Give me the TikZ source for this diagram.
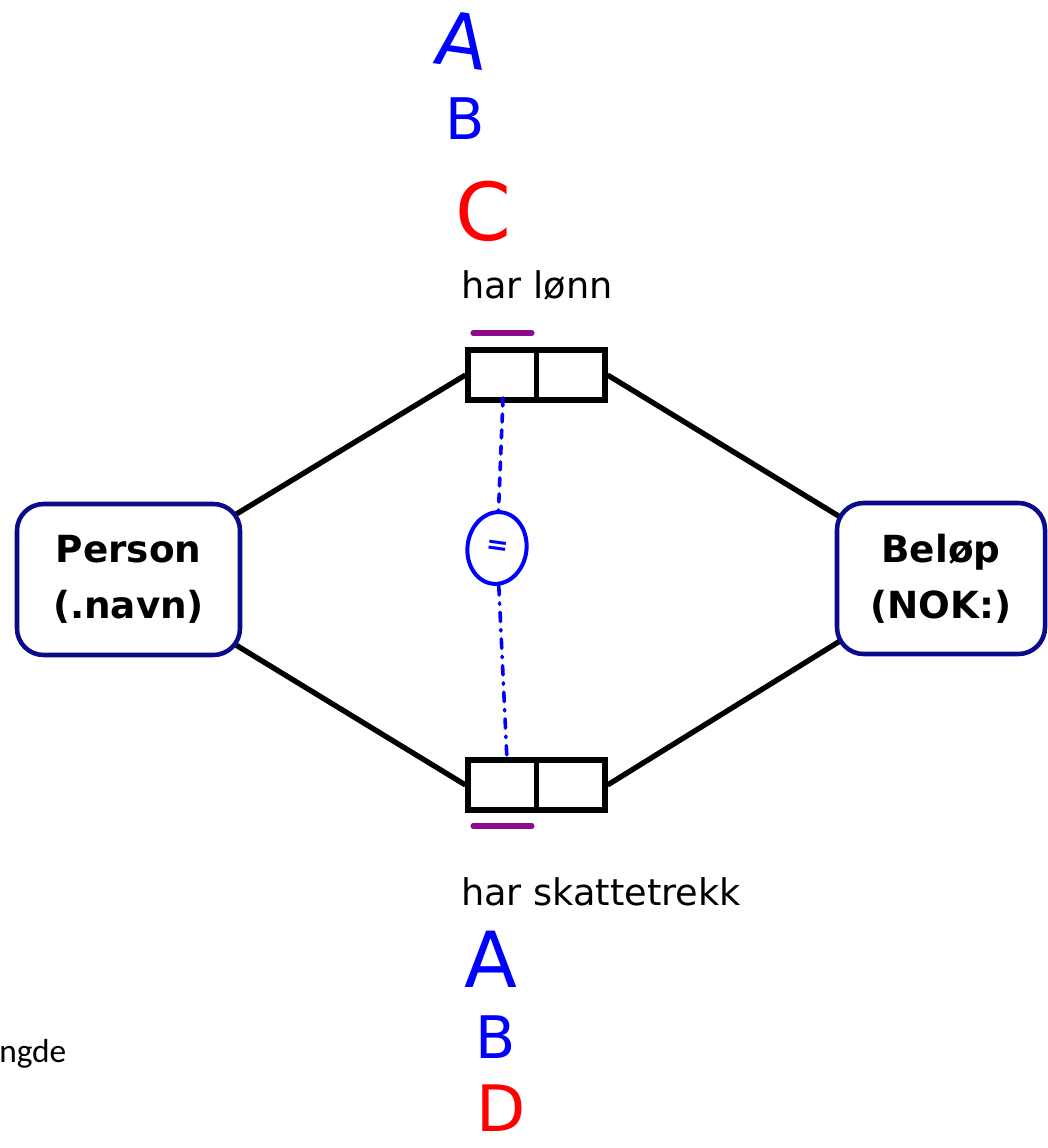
\documentclass[tikz,border=0pt]{standalone}
\usepackage{fontspec}
\setmainfont{DejaVu Sans}
\newfontfamily\calib{Carlito}
\usetikzlibrary{shapes.geometric,backgrounds}
\definecolor{navyb}{RGB}{10,10,140}
\definecolor{purp}{RGB}{140,10,140}
\definecolor{hblue}{RGB}{0,0,255}
\definecolor{hred}{RGB}{255,0,0}
\tikzset{
  entity/.style={draw=navyb, line width=3.4pt, rounded corners=20pt, fill=white,
     align=center, font=\fontsize{28}{42}\selectfont\bfseries, inner sep=0pt},
  rolebox/.style={draw=black, line width=3.8pt, fill=white, minimum width={137*0.75pt},
     minimum height={50*0.75pt}, inner sep=0pt},
  conn/.style={draw=black, line width=4pt},
  uniq/.style={draw=purp, line width=3.8pt, line cap=round},
  lbl/.style={font=\fontsize{27.5}{33}\selectfont, inner sep=0pt},
  hand/.style={inner sep=0pt, anchor=base},
  pen/.style={draw=hblue, line width=2.7pt, line cap=round}
}
\begin{document}
\begin{tikzpicture}[x=0.75pt,y=-0.75pt]
\useasboundingbox (0,0) rectangle (1048,1148);
% entity types
\node[entity, minimum width={223*0.75pt}, minimum height={151*0.75pt}] (person) at (128.5,579.5) {Person\\(.navn)};
\node[entity, minimum width={208*0.75pt}, minimum height={151*0.75pt}] (belop) at (941,578.5) {Bel\o p\\(NOK:)};
% role boxes
\node[rolebox] (rtop) at (536.5,375) {};
\node[rolebox] (rbot) at (536.5,785) {};
\draw[line width=3.8pt] (rtop.north) -- (rtop.south);
\draw[line width=3.8pt] (rbot.north) -- (rbot.south);
% connectors behind entity boxes
\begin{pgfonlayer}{background}
\draw[conn] (rtop.west) -- (person.center);
\draw[conn] (rtop.east) -- (belop.center);
\draw[conn] (rbot.west) -- (person.center);
\draw[conn] (rbot.east) -- (belop.center);
\end{pgfonlayer}
% uniqueness bars
\coordinate (u1a) at (473,333); \coordinate (u1b) at (532,333);
\coordinate (u2a) at (473,826); \coordinate (u2b) at (532,826);
\draw[uniq] (u1a) -- (u1b);
\draw[uniq] (u2a) -- (u2b);
% labels
\node[lbl, anchor=base west] (lt) at (461,298) {har l\o nn};
\node[lbl, anchor=base west] (lb) at (461,905) {har skattetrekk};
\node[inner sep=0pt, anchor=base west, font=\calib\fontsize{25}{29}\selectfont] (ng) at (-1,1062) {ngde};
% handwritten equality constraint
\node[ellipse, draw=hblue, line width=3pt, minimum width={59*0.75pt}, minimum height={72*0.75pt},
      inner sep=0pt, rotate=-8, text=hblue, font=\fontsize{20}{20}\selectfont\bfseries] (eq) at (497,548) {=};
\coordinate (c1) at (503,398);
\coordinate (c2) at (507,760);
\draw[pen, dash pattern=on 6pt off 6pt] (c1) -- (eq);
\draw[pen, dash pattern=on 7pt off 6pt on 1pt off 6pt] (eq) -- (c2);
% handwritten letters
\node[hand, text=hblue, font=\fontsize{56}{56}\selectfont, rotate=-8] (a1) at (458,67) {A};
\node[hand, text=hblue, font=\fontsize{43}{43}\selectfont] (b1) at (465,140) {B};
\node[hand, text=hred, font=\fontsize{60}{60}\selectfont] (c1l) at (483,240) {C};
\node[hand, text=hblue, font=\fontsize{58}{58}\selectfont] (a2) at (491,987) {A};
\node[hand, text=hblue, font=\fontsize{44}{44}\selectfont] (b2) at (496,1058) {B};
\node[hand, text=hred, font=\fontsize{48}{48}\selectfont] (d2) at (501,1131) {D};
\end{tikzpicture}
\end{document}
